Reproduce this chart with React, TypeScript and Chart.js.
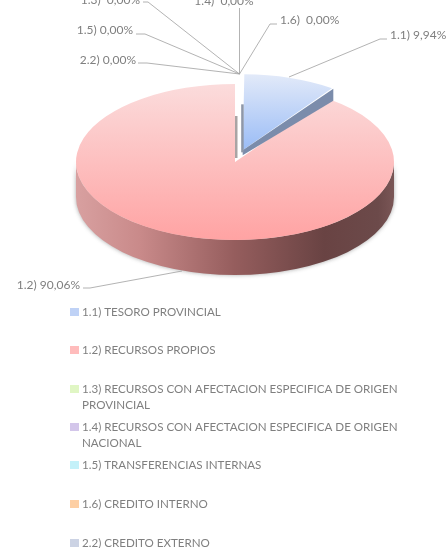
import React, { useEffect, useRef } from "react";
import { Chart, registerables } from "chart.js";

Chart.register(...registerables);

const codes = ["1.1)", "1.2)", "1.3)", "1.4)", "1.5)", "1.6)", "2.2)"];
const names = [
  ["TESORO PROVINCIAL"],
  ["RECURSOS PROPIOS"],
  ["RECURSOS CON AFECTACION ESPECIFICA DE ORIGEN", "PROVINCIAL"],
  ["RECURSOS CON AFECTACION ESPECIFICA DE ORIGEN", "NACIONAL"],
  ["TRANSFERENCIAS INTERNAS"],
  ["CREDITO INTERNO"],
  ["CREDITO EXTERNO"],
];
const values = [9.94, 90.06, 0, 0, 0, 0, 0];
const labelGaps = [" ", " ", "  ", "  ", " ", "  ", " "];
const swatches = ["#bfd2f6", "#ffbcbc", "#e0f6c4", "#d3c6ea", "#c4f1f9", "#fdcfa4", "#ccd3e4"];

const CENTER_X = 235;
const CENTER_Y = 162;
const RADIUS = 159;
const SLICE_RADIUS = 155;
const SQUASH = 78 / 159;
const DEPTH = 35;
const SLICE_OFFSET = 100; // Chart.js moves a slice by a quarter of this
const LEGEND_FONT = "11.6px Lato";
const LABEL_FONT = "12px Lato";
const TEXT = "#7f7f7f";
const LINE = "#a0a0a0";
const legendRows = [312, 350, 389, 427, 465, 504, 543];

const leaders: { pts: number[][]; tx: number; ty: number; align: CanvasTextAlign }[] = [
  { pts: [[289, 77], [380, 39], [387, 39]], tx: 390, ty: 35, align: "left" },
  { pts: [[182, 271], [90, 288], [83, 288]], tx: 80, ty: 285, align: "right" },
  { pts: [[239.5, 74], [148, 2], [143, 2]], tx: 140, ty: 0, align: "right" },
  { pts: [[239.5, 74], [239.5, 8]], tx: 224, ty: 1, align: "center" },
  { pts: [[239.5, 74], [145, 34], [136, 34]], tx: 133, ty: 30, align: "right" },
  { pts: [[239.5, 74], [270, 24], [277, 24]], tx: 280, ty: 20, align: "left" },
  { pts: [[239.5, 74], [147, 63], [138, 63]], tx: 136, ty: 60, align: "right" },
];

const faceGradient = (chart: any, y0: number, y1: number, from: string, to: string) => {
  const g = chart.ctx.createLinearGradient(0, y0, 0, y1);
  g.addColorStop(0, from);
  g.addColorStop(1, to);
  return g;
};

const pie3d = {
  id: "pie3d",
  beforeDatasetsDraw(chart: any) {
    const { ctx } = chart;
    const arcs = chart.getDatasetMeta(0).data;
    const red = arcs[1].getProps(["x", "y", "outerRadius"], true);
    const rx = red.outerRadius;
    const ry = rx * SQUASH;

    // Chart.js also grows an offset slice; keep it the size of the pie.
    const circ = arcs[0].circumference;
    arcs[0].outerRadius = SLICE_RADIUS - (SLICE_OFFSET / 4) * (1 - Math.sin(Math.min(Math.PI, circ)));

    ctx.save();
    const wall = ctx.createLinearGradient(red.x - rx, 0, red.x + rx, 0);
    wall.addColorStop(0, "#d8a0a0");
    wall.addColorStop(0.2, "#c98a8a");
    wall.addColorStop(0.5, "#955d5d");
    wall.addColorStop(0.78, "#694343");
    wall.addColorStop(0.95, "#6c4a4a");
    wall.addColorStop(1, "#7a5656");
    ctx.shadowColor = "rgba(60,60,60,0.45)";
    ctx.shadowBlur = 4;
    ctx.fillStyle = wall;
    ctx.beginPath();
    ctx.ellipse(red.x, red.y, rx, ry, 0, 0, Math.PI);
    ctx.ellipse(red.x, red.y + DEPTH, rx, ry, 0, Math.PI, 0, true);
    ctx.closePath();
    ctx.fill();
    ctx.restore();

    ctx.save();
    ctx.translate(CENTER_X, CENTER_Y);
    ctx.scale(1, SQUASH);
    ctx.translate(-CENTER_X, -CENTER_Y);
  },
  afterDatasetsDraw(chart: any) {
    const { ctx } = chart;
    ctx.restore();
    const arcs = chart.getDatasetMeta(0).data;
    const red = arcs[1].getProps(["x", "y"], true);
    const blue = arcs[0].getProps(["x", "y", "startAngle", "endAngle"], true);
    const mid = (blue.startAngle + blue.endAngle) / 2;
    const off = SLICE_OFFSET / 4;
    const ax = blue.x + Math.cos(mid) * off;
    const ay = CENTER_Y + (blue.y - CENTER_Y + Math.sin(mid) * off) * SQUASH;
    const tipX = ax + Math.cos(blue.endAngle) * SLICE_RADIUS;
    const tipY = ay + Math.sin(blue.endAngle) * SLICE_RADIUS * SQUASH;

    ctx.save();
    ctx.fillStyle = "#7b8cab";
    ctx.beginPath();
    ctx.moveTo(ax, ay);
    ctx.lineTo(tipX, tipY);
    ctx.lineTo(tipX, tipY + 12);
    ctx.lineTo(ax, ay + 5);
    ctx.closePath();
    ctx.fill();
    ctx.fillStyle = "#8e97a8";
    ctx.fillRect(ax - 1.5, ay - 46, 2.5, 48);
    ctx.fillStyle = "#a9a4a4";
    ctx.fillRect(red.x, red.y - 46, 2.5, 42);
    ctx.restore();
  },
  afterDraw(chart: any) {
    const { ctx } = chart;
    const labels: string[] = chart.data.labels;
    const data: number[] = chart.data.datasets[0].data;
    ctx.save();
    ctx.textBaseline = "middle";

    ctx.font = LABEL_FONT;
    leaders.forEach((l, i) => {
      ctx.strokeStyle = LINE;
      ctx.lineWidth = 0.8;
      ctx.beginPath();
      l.pts.forEach(([x, y], j) => (j ? ctx.lineTo(x, y) : ctx.moveTo(x, y)));
      ctx.stroke();
      ctx.fillStyle = TEXT;
      ctx.textAlign = l.align;
      const text = `${codes[i]}${labelGaps[i]}${data[i].toFixed(2).replace(".", ",")}%`;
      ctx.fillText(text, l.tx, l.ty);
    });

    ctx.font = LEGEND_FONT;
    ctx.textAlign = "left";
    labels.forEach((_, i) => {
      const y = legendRows[i];
      ctx.fillStyle = swatches[i];
      ctx.fillRect(70, y - 4, 9, 8);
      ctx.fillStyle = TEXT;
      ctx.fillText(`${codes[i]} ${names[i][0]}`, 82, y);
      if (names[i][1]) ctx.fillText(names[i][1], 82, y + 16);
    });
    ctx.restore();
  },
};

export default function App() {
  const ref = useRef<HTMLCanvasElement>(null);
  useEffect(() => {
    const chart = new Chart(ref.current as HTMLCanvasElement, {
      type: "pie",
      data: {
        labels: codes,
        datasets: [
          {
            data: values,
            borderWidth: 0,
            offset: [SLICE_OFFSET, 0, 0, 0, 0, 0, 0],
            clip: false,
            backgroundColor: (c: any) =>
              c.dataIndex === 0
                ? faceGradient(c.chart, CENTER_Y - RADIUS, CENTER_Y, "#e4ebf9", "#9abcf6")
                : faceGradient(c.chart, CENTER_Y - RADIUS, CENTER_Y + RADIUS, "#fbdcdc", "#ffa3a3"),
          } as any,
        ],
      },
      options: {
        responsive: false,
        animation: false,
        radius: RADIUS,
        layout: { padding: { left: 23, right: 0, top: 0, bottom: 224 } },
        plugins: { legend: { display: false }, tooltip: { enabled: false } },
      } as any,
      plugins: [pie3d],
    });
    return () => chart.destroy();
  }, []);
  return (
    <div style={{ position: "absolute", left: 0, top: 0, width: 447, height: 548, background: "#fff" }}>
      <canvas ref={ref} width={447} height={548} style={{ display: "block" }} />
    </div>
  );
}
